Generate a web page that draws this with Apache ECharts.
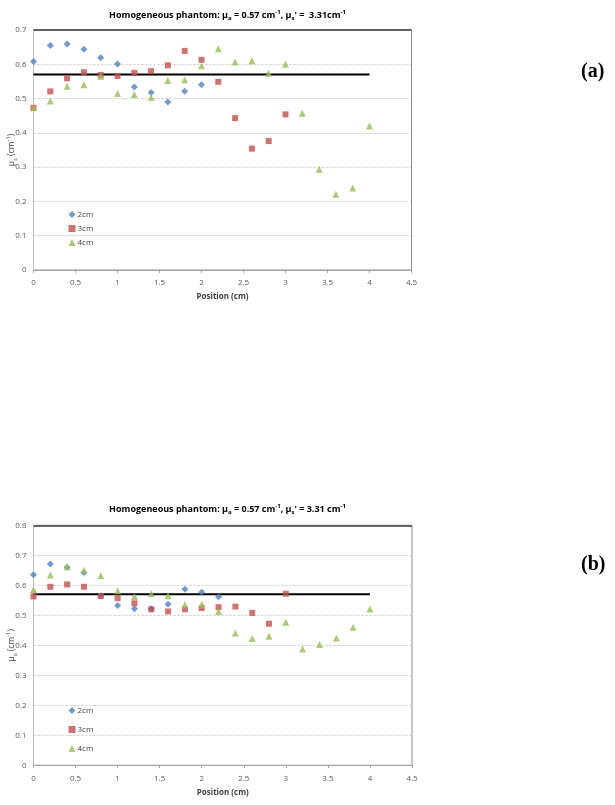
<!DOCTYPE html>
<html>
<head>
<meta charset="utf-8">
<script src="https://cdn.jsdelivr.net/npm/echarts@6/dist/echarts.min.js"></script>
<style>
  html, body { margin: 0; padding: 0; background: #fff; }
  #chart { width: 615px; height: 805px; }
</style>
</head>
<body>
<div id="chart"></div>
<script>
// positions along the phantom (cm)
const positions = [0, 0.2, 0.4, 0.6, 0.8, 1.0, 1.2, 1.4, 1.6, 1.8, 2.0, 2.2, 2.4, 2.6, 2.8, 3.0, 3.2, 3.4, 3.6, 3.8, 4.0];
const xTicks = [0, 0.5, 1, 1.5, 2, 2.5, 3, 3.5, 4, 4.5];
const seriesNames = ["2cm", "3cm", "4cm"];

// (a) mu_s values
const a2cm = [0.608, 0.655, 0.659, 0.644, 0.619, 0.601, 0.534, 0.518, 0.490, 0.521, 0.540];
const a3cm = [0.473, 0.521, 0.559, 0.577, 0.569, 0.566, 0.575, 0.580, 0.597, 0.639, 0.613, 0.549, 0.443, 0.354, 0.376, 0.454];
const a4cm = [0.473, 0.493, 0.536, 0.540, 0.565, 0.515, 0.511, 0.503, 0.553, 0.555, 0.596, 0.645, 0.607, 0.610, 0.574, 0.600, 0.457, 0.294, 0.221, 0.239, 0.420];

// (b) mu_s values
const b2cm = [0.635, 0.671, 0.660, 0.643, 0.565, 0.533, 0.522, 0.522, 0.537, 0.587, 0.577, 0.562];
const b3cm = [0.563, 0.595, 0.603, 0.595, 0.564, 0.557, 0.540, 0.520, 0.513, 0.520, 0.524, 0.527, 0.529, 0.508, 0.472, 0.572];
const b4cm = [0.585, 0.634, 0.662, 0.650, 0.633, 0.582, 0.563, 0.572, 0.565, 0.535, 0.537, 0.513, 0.441, 0.423, 0.430, 0.477, 0.388, 0.403, 0.424, 0.460, 0.521];

// true value line (mu_a = 0.57) from x=0 to x=4
const refX = [0, 4];
const refY = 0.57;
const yMaxA = 0.7;
const yMaxB = 0.8;

const colors = ["#4f81bd", "#c0504d", "#9bbb59"];
const symbols = ["diamond", "rect", "triangle"];
const symbolSizes = [7, 6, 7];

function pairs(vals) {
  return vals.map((v, i) => [positions[i], v]);
}

const fontFamily = "'Open Sans', 'Liberation Sans', sans-serif";
const rich = {
  t: { fontSize: 9, fontWeight: "bold", color: "#000", lineHeight: 12, fontFamily: fontFamily },
  sub: { fontSize: 6, fontWeight: "bold", color: "#000", lineHeight: 7, verticalAlign: "bottom", fontFamily: fontFamily },
  sup: { fontSize: 6, fontWeight: "bold", color: "#000", lineHeight: 7, verticalAlign: "top", fontFamily: fontFamily },
  n: { fontSize: 8.5, color: "#404040", lineHeight: 13, fontFamily: fontFamily },
  ns: { fontSize: 6, color: "#404040", lineHeight: 7, verticalAlign: "bottom", fontFamily: fontFamily },
  np: { fontSize: 6, color: "#404040", lineHeight: 7, verticalAlign: "top", fontFamily: fontFamily },
};

const grids = [
  { left: 33.5, top: 30, width: 378, height: 240, show: true, borderColor: "#8c8c8c", borderWidth: 1, outerBoundsMode: "none", containLabel: false },
  { left: 33.5, top: 525.3, width: 378.5, height: 240, show: true, borderColor: "#8c8c8c", borderWidth: 1, outerBoundsMode: "none", containLabel: false },
];

function makeX(gi) {
  return {
    type: "value",
    gridIndex: gi,
    min: xTicks[0],
    max: xTicks[xTicks.length - 1],
    interval: 0.5,
    name: "Position (cm)",
    nameLocation: "middle",
    nameGap: 23,
    nameMoveOverlap: false,
    nameTextStyle: { fontSize: 8, fontWeight: "bold", color: "#404040", fontFamily: fontFamily },
    axisLine: { show: true, lineStyle: { color: "#a6a6a6" } },
    axisTick: { show: true, length: 3, lineStyle: { color: "#a6a6a6" } },
    axisLabel: { fontSize: 8, color: "#595959", margin: 9, fontFamily: fontFamily },
    splitLine: { show: false },
  };
}

function makeY(gi, max) {
  return {
    type: "value",
    gridIndex: gi,
    min: 0,
    max: max,
    interval: 0.1,
    name: "{n|μ}{ns|s}{n| (cm}{np|-1}{n|)}",
    nameLocation: "middle",
    nameGap: 15,
    nameMoveOverlap: false,
    nameTextStyle: { rich: rich },
    axisLine: { show: true, lineStyle: { color: "#c0c0c0" } },
    axisTick: { show: false },
    axisLabel: { fontSize: 8, color: "#595959", margin: 7, fontFamily: fontFamily },
    splitLine: { show: true, lineStyle: { color: "#c8c8c8", type: [2, 2], width: 1 } },
  };
}

function scatter(name, vals, k, gi) {
  return {
    name: name,
    type: "scatter",
    xAxisIndex: gi,
    yAxisIndex: gi,
    data: pairs(vals),
    symbol: symbols[k],
    symbolSize: symbolSizes[k],
    itemStyle: { color: colors[k] },
    z: 3 + k,
  };
}

function refLine(gi, max) {
  return {
    name: "ref",
    type: "line",
    xAxisIndex: gi,
    yAxisIndex: gi,
    data: refX.map((x) => [x, refY]),
    symbol: "none",
    lineStyle: { color: "#000", width: 2 },
    z: 2,
    silent: true,
    // dark top border of the plot
    markLine: {
      silent: true,
      symbol: "none",
      label: { show: false },
      lineStyle: { color: "#404040", type: "solid", width: 1.5 },
      data: [{ yAxis: max }],
    },
  };
}

function makeLegend(top, gap) {
  return {
    data: seriesNames,
    orient: "vertical",
    left: 63.5,
    top: top,
    itemGap: gap,
    itemWidth: 7,
    itemHeight: 7,
    textStyle: { fontSize: 8, color: "#404040", fontFamily: fontFamily, padding: [0, 0, 0, -3] },
    selectedMode: false,
  };
}

var option = {
  animation: false,
  backgroundColor: "#fff",
  title: [
    {
      text: "{t|Homogeneous phantom: μ}{sub|a}{t| = 0.57 cm}{sup|-1}{t|, μ}{sub|s}{t|' =  3.31cm}{sup|-1}",
      left: 222.5,
      top: 4,
      textAlign: "center",
      textStyle: { rich: rich },
    },
    {
      text: "{t|Homogeneous phantom: μ}{sub|a}{t| = 0.57 cm}{sup|-1}{t|, μ}{sub|s}{t|' = 3.31 cm}{sup|-1}",
      left: 222.5,
      top: 498,
      textAlign: "center",
      textStyle: { rich: rich },
    },
  ],
  graphic: [
    {
      type: "text",
      left: 581,
      top: 62,
      style: { text: "(a)", font: "bold 20px 'Liberation Serif', 'DejaVu Serif', serif", fill: "#000" },
    },
    {
      type: "text",
      left: 581,
      top: 555,
      style: { text: "(b)", font: "bold 20px 'Liberation Serif', 'DejaVu Serif', serif", fill: "#000" },
    },
  ],
  legend: [makeLegend(205.5, 6), makeLegend(701.5, 11)],
  grid: grids,
  xAxis: [makeX(0), makeX(1)],
  yAxis: [makeY(0, yMaxA), makeY(1, yMaxB)],
  series: [
    refLine(0, yMaxA),
    scatter("2cm", a2cm, 0, 0),
    scatter("3cm", a3cm, 1, 0),
    scatter("4cm", a4cm, 2, 0),
    refLine(1, yMaxB),
    scatter("2cm", b2cm, 0, 1),
    scatter("3cm", b3cm, 1, 1),
    scatter("4cm", b4cm, 2, 1),
  ],
};

var chart = echarts.init(document.getElementById("chart"));
chart.setOption(option);
window.addEventListener("resize", () => {
  if (null != chart) {
    chart.resize();
  }
});
</script>
</body>
</html>
